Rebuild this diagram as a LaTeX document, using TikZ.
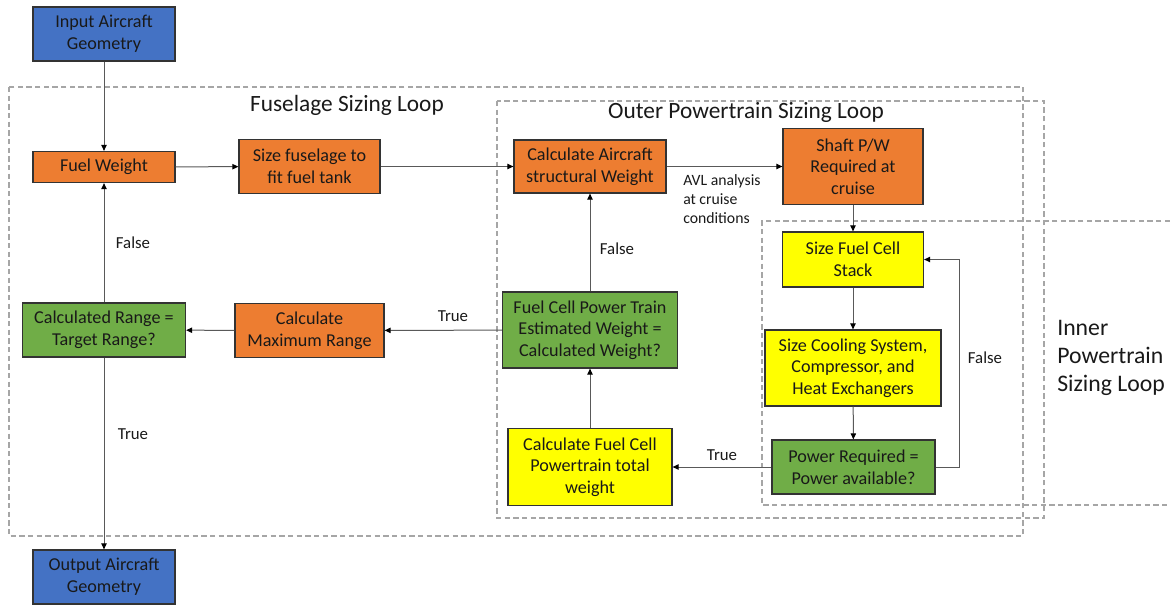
\documentclass[tikz,border=0pt]{standalone}
\usepackage{fontspec}
\setmainfont{Carlito}
\usetikzlibrary{arrows.meta}
\definecolor{cblue}{HTML}{4472C4}
\definecolor{corange}{HTML}{ED7D31}
\definecolor{cgreen}{HTML}{70AD47}
\definecolor{cyellow}{HTML}{FFFF00}
\definecolor{cdash}{HTML}{A6A6A6}
\definecolor{cline}{HTML}{595959}
\begin{document}
\begin{tikzpicture}[x=0.75pt,y=-0.75pt,
  box/.style={draw=black!80, line width=0.9pt, inner sep=0pt, align=center,
    font=\fontsize{13.6}{16.2}\selectfont, text=black!90},
  sz/.style 2 args={minimum width=#1*0.75pt, minimum height=#2*0.75pt},
  conn/.style={draw=cline, line width=0.75pt,
    -{Triangle[length=4.5pt,width=4pt,color=black]}},
  loopline/.style={draw=cdash, line width=0.8pt, dash pattern=on 4pt off 2.5pt},
  lbl/.style={font=\fontsize{12.6}{15}\selectfont, text=black!90, inner sep=0pt},
  title/.style={font=\fontsize{17.5}{21}\selectfont, text=black!90, inner sep=0pt, align=left}
]
\useasboundingbox (0,0) rectangle (1170,607);

% loops
\draw[loopline] (9,87) rectangle (1023,536);
\draw[loopline] (497,101) rectangle (1044,518);
\draw[loopline] (1170,221) -- (762,221) -- (762,505) -- (1170,505);

\node[title] (tfus) at (347,105) {Fuselage Sizing Loop};
\node[title] (tout) at (746,112) {Outer Powertrain Sizing Loop};
\node[title, anchor=west, font=\fontsize{17.8}{21}\selectfont] (tinn) at (1057,358) {Inner\\Powertrain\\Sizing Loop};

% nodes
\node[box, fill=cblue, sz={142}{54}] (in) at (104,34) {Input Aircraft\\Geometry};
\node[box, fill=corange, sz={142}{31}] (fw) at (104,167) {Fuel Weight};
\node[box, fill=corange, sz={141}{54}] (sf) at (309.5,166.5) {Size fuselage to\\fit fuel tank};
\node[box, fill=corange, sz={152}{53}] (cs) at (590,166.5) {Calculate Aircraft\\structural Weight};
\node[box, fill=corange, sz={140}{76}] (sh) at (853,166.5) {Shaft P/W\\Required at\\cruise};
\node[box, fill=cyellow, sz={141}{55}] (st) at (853,259.5) {Size Fuel Cell\\Stack};
\node[box, fill=cyellow, sz={176}{76}] (co) at (853,368) {Size Cooling System,\\Compressor, and\\Heat Exchangers};
\node[box, fill=cgreen, sz={163}{54}] (pr) at (853.5,467) {Power Required =\\Power available?};
\node[box, fill=cyellow, sz={164}{77}] (tw) at (590,467) {Calculate Fuel Cell\\Powertrain total\\weight};
\node[box, fill=cgreen, sz={175}{76}] (fc) at (590,330) {Fuel Cell Power Train\\Estimated Weight =\\Calculated Weight?};
\node[box, fill=corange, sz={149}{54}] (mr) at (309.5,330.5) {Calculate\\Maximum Range};
\node[box, fill=cgreen, sz={163}{54}] (cr) at (104,330) {Calculated Range =\\Target Range?};
\node[box, fill=cblue, sz={142}{54}] (out) at (104,577) {Output Aircraft\\Geometry};

% connectors
\draw[conn] (in) -- (fw);
\draw[conn] (fw) -- (sf);
\draw[conn] (sf) -- (cs);
\draw[conn] (cs) -- (sh);
\draw[conn] (sh) -- (st);
\draw[conn] (st) -- (co);
\draw[conn] (co) -- (pr);
\draw[conn] (pr) -- (tw);
\draw[conn] (tw) -- (fc);
\draw[conn] (fc) -- (cs);
\draw[conn] (fc) -- (mr);
\draw[conn] (mr) -- (cr);
\draw[conn] (cr) -- (fw);
\draw[conn] (cr) -- (out);
\draw[conn] (pr.east) -- ++(24,0) |- (st.east);

% labels
\node[lbl, align=left, anchor=west, font=\fontsize{11.8}{14.3}\selectfont] (avl) at (683,199) {AVL analysis\\at cruise\\conditions};
\node[lbl] (lf1) at (617,249) {False};
\node[lbl] (lt1) at (453,316) {True};
\node[lbl] (lt2) at (722,455) {True};
\node[lbl] (lf2) at (985,358) {False};
\node[lbl] (lf3) at (133,243) {False};
\node[lbl] (lt3) at (133,434) {True};
\end{tikzpicture}
\end{document}
